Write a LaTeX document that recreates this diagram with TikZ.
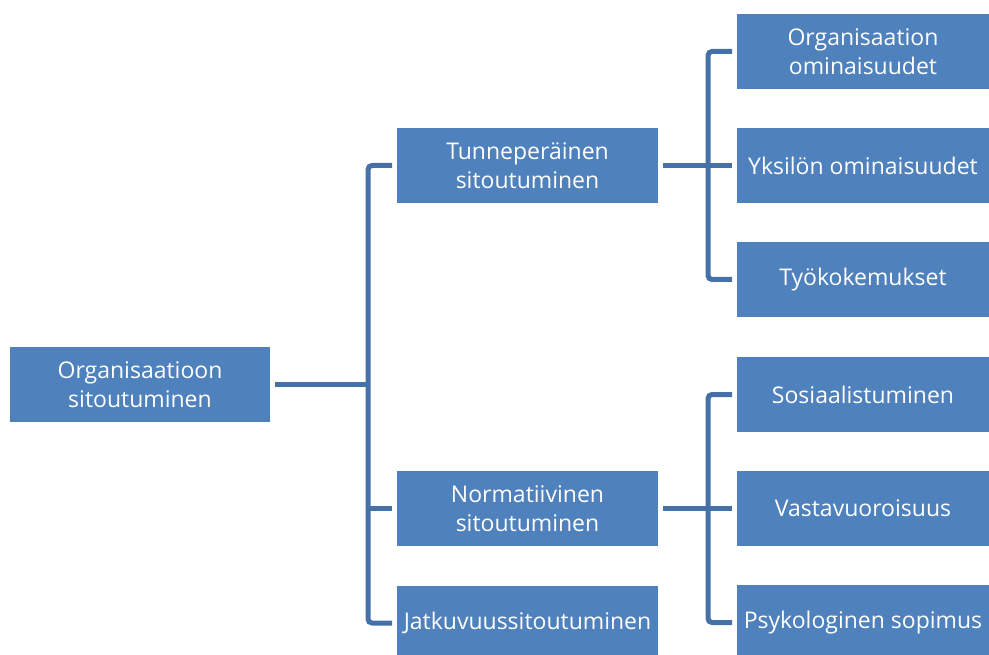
\documentclass[tikz,border=0pt]{standalone}
\usepackage{fontspec}
\setmainfont{Open Sans}[Ligatures=NoCommon]
\begin{document}
\begin{tikzpicture}[
    x=1pt, y=-1pt,
    every node/.style={font=\fontsize{23}{29}\selectfont, text=white, align=center, inner sep=0pt},
    box/.style={fill=boxblue, minimum height=75pt, outer sep=5pt},
    conn/.style={draw=lineblue, line width=5pt, rounded corners=4pt}
]
\definecolor{boxblue}{HTML}{4F81BD}
\definecolor{lineblue}{HTML}{4671A8}
\useasboundingbox (0,0) rectangle (989,655);

% Column x positions (px) and row step
\def\ca{140}
\def\cb{527.5}
\def\cc{863}
\def\ys{114}

% root
\node[box, minimum width=260pt] (org) at (\ca, 384.5) {Organisaatioon\\sitoutuminen};

% middle column
\node[box, minimum width=261pt] (tun) at (\cb, 165.5) {Tunneperäinen\\sitoutuminen};
\node[box, minimum width=261pt] (nor) at (\cb, 508.5) {Normatiivinen\\sitoutuminen};
\node[box, minimum width=261pt] (jat) at (\cb, 623)   {Jatkuvuussitoutuminen};

% right column
\node[box, minimum width=252pt] (oom) at (\cc, 51.5)         {Organisaation\\ominaisuudet};
\node[box, minimum width=252pt] (yom) at (\cc, 51.5+\ys)     {Yksilön ominaisuudet};
\node[box, minimum width=252pt] (tyo) at (\cc, 51.5+2*\ys)   {Työkokemukset};
\node[box, minimum width=252pt] (sos) at (\cc, 394.5)        {Sosiaalistuminen};
\node[box, minimum width=252pt] (vas) at (\cc, 394.5+\ys)    {Vastavuoroisuus};
\node[box, minimum width=252pt] (psy) at (\cc, 394.5+2*\ys)  {Psykologinen sopimus};

% bus lines
\coordinate (bm) at (368, 384.5);
\coordinate (bt) at (708, 165.5);
\coordinate (bn) at (708, 508.5);

% root -> middle column
\draw[conn] (tun.west) -| (bm) |- (jat.west);
\draw[conn] (org.east) -- (bm);
\draw[conn] (nor.west) -- (nor.west -| bm);

% Tunneperäinen -> right column
\draw[conn] (oom.west) -| (bt) |- (tyo.west);
\draw[conn] (tun.east) -- (yom.west);

% Normatiivinen -> right column
\draw[conn] (sos.west) -| (bn) |- (psy.west);
\draw[conn] (nor.east) -- (vas.west);

\end{tikzpicture}
\end{document}
